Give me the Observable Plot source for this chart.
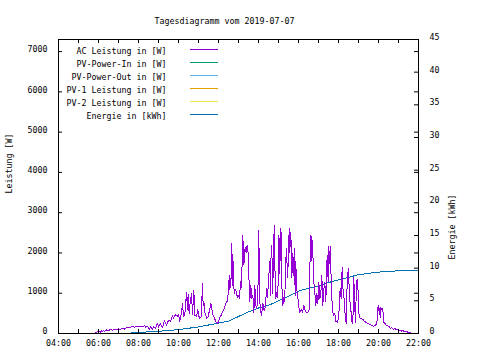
<!DOCTYPE html>
<html><head><meta charset="utf-8">
<script src="https://cdn.jsdelivr.net/npm/d3@7"></script>
<script src="https://cdn.jsdelivr.net/npm/@observablehq/plot@0.6"></script>
<style>
html,body{margin:0;padding:0;background:#fff;}
#chart svg{display:block}
</style>
</head><body><div id="chart"></div>
<script>
const title = "Tagesdiagramm vom 2019-07-07";
const yLabel = "Leistung [W]";
const y2Label = "Energie [kWh]";
const legendLabels = ["AC Leistung in [W]", "PV-Power-In in [W]", "PV-Power-Out in [W]", "PV-1 Leistung in [W]", "PV-2 Leistung in [W]", "Energie in [kWh]"];
const legendColors = ["#9400d3", "#009e73", "#56b4e9", "#e69f00", "#f0e442", "#0072b2"];
const xTicks = ["04:00","06:00","08:00","10:00","12:00","14:00","16:00","18:00","20:00","22:00"];
const yTicks = [0,1000,2000,3000,4000,5000,6000,7000];
const y2Ticks = [0,5,10,15,20,25,30,35,40,45];
const yMax = 7300;
const y2Max = 45;

const acTimes = [
 "05:48","05:51","05:54","05:57","06:00","06:03","06:06","06:09","06:12","06:15","06:18","06:24","06:30","06:36","06:42","06:48","06:54",
 "07:00","07:06","07:12","07:18","07:24","07:30","07:36","07:42","07:48","07:54",
 "08:00","08:06","08:12","08:18","08:21","08:27","08:33","08:36","08:42","08:45","08:51","08:57",
 "09:00","09:06","09:12","09:18","09:24","09:30","09:36","09:42","09:45","09:51","09:57",
 "10:00","10:04","10:09","10:12","10:15","10:19","10:24","10:27","10:29","10:32","10:35","10:39","10:42","10:46","10:49","10:54","10:58",
 "11:01","11:04","11:08","11:12","11:14","11:17","11:20","11:25","11:29","11:34","11:37","11:40","11:44","11:48","11:52","11:56",
 "12:00","12:04","12:08","12:12","12:16","12:20","12:24","12:28","12:30","12:32","12:34","12:37","12:40","12:42","12:44","12:47","12:50","12:53","12:56","12:59",
 "13:03","13:06","13:09","13:13","13:16","13:18","13:20","13:23","13:26","13:28","13:31","13:34","13:37","13:40","13:43","13:46","13:49","13:52","13:55","13:58",
 "14:01","14:03","14:06","14:09","14:13","14:17","14:21","14:24","14:27","14:31","14:34","14:36","14:38","14:40","14:42","14:45","14:47","14:49","14:52","14:55","14:58",
 "15:01","15:03","15:05","15:07","15:09","15:11","15:13","15:16","15:19","15:21","15:24","15:27","15:30","15:32","15:34","15:36","15:38","15:40","15:43","15:46","15:48","15:50","15:52","15:54","15:57",
 "16:00","16:04","16:08","16:12","16:16","16:20","16:24","16:28","16:32","16:36","16:38","16:40","16:43","16:46","16:49","16:52","16:55","16:58",
 "17:01","17:04","17:07","17:10","17:13","17:16","17:19","17:22","17:26","17:29","17:31","17:33","17:36","17:38","17:40","17:43","17:46","17:49","17:52","17:56","17:59",
 "18:02","18:05","18:08","18:11","18:14","18:17","18:20","18:23","18:26","18:28","18:30","18:33","18:36","18:40","18:43","18:46","18:48","18:51","18:54","18:57","18:59",
 "19:02","19:06","19:10","19:14","19:18","19:22","19:26","19:30","19:35","19:40","19:45","19:50","19:55",
 "19:59","20:01","20:03","20:05","20:07","20:10","20:13","20:15","20:19","20:24","20:29","20:33","20:36","20:40","20:44","20:49","20:53","20:57",
 "21:01","21:05","21:09","21:14","21:19","21:24","21:29","21:34","21:38","21:41"
];
const acPower = [
 0,30,10,50,20,60,30,70,40,80,50,90,70,100,80,110,90,
 120,100,130,110,150,140,160,165,160,165,
 165,165,165,200,160,170,110,180,90,170,130,250,
 160,240,150,320,200,330,300,450,380,470,430,
 480,300,520,750,420,460,1030,600,980,500,760,990,480,1070,450,420,600,
 430,380,420,1240,700,750,480,380,420,620,750,600,450,380,300,250,
 280,400,450,530,600,700,780,820,1320,1100,1440,1150,2240,1200,1780,1000,1100,1050,900,950,
 870,1280,1150,2440,1700,1870,2150,2000,2200,2150,1440,800,1200,870,950,520,1200,700,620,900,
 2560,870,600,450,750,570,670,1120,900,1440,1780,950,2150,2190,1000,1700,2690,1700,870,1020,900,
 2440,1500,2610,1800,2500,700,950,750,870,1700,2110,1400,1900,2610,2000,2520,2270,1400,2000,1440,2110,950,1800,1100,1020,
 700,520,600,520,700,560,520,520,600,2440,1800,2400,2000,1280,1020,700,1000,750,
 1280,870,1000,1440,700,1100,1280,800,1940,1300,2150,1740,2150,1300,870,520,450,500,300,280,350,
 600,1120,870,1650,1000,870,450,250,1250,1500,1620,870,700,300,250,1400,800,280,1280,1350,1000,
 400,380,360,340,300,280,260,240,220,200,180,200,250,
 700,560,620,400,650,600,620,280,250,200,180,160,120,150,100,130,100,110,
 80,90,60,70,40,50,30,20,10,0
];

const energyTimes = ["07:00","07:30","08:00","08:30","09:00","09:30","10:00","10:30","11:00","11:30","12:00","12:30","13:00","13:30","14:00","14:30","15:00","15:30","16:00","16:30","17:00","17:30","18:00","18:30","19:00","19:30","20:00","20:30","21:00","21:30","22:00"];
const energyKWh = [0,0.05,0.15,0.25,0.35,0.45,0.6,0.8,1.0,1.3,1.6,1.9,2.6,3.3,3.9,4.3,5.0,5.7,6.5,6.9,7.3,7.8,8.2,8.6,9.0,9.2,9.4,9.5,9.6,9.65,9.65];

const toH = s => { const [h, m] = s.split(":").map(Number); return h + m / 60; };
const k = yMax / y2Max;
const ac = acTimes.map((t, i) => ({t: toH(t), w: acPower[i]}));
const en = energyTimes.map((t, i) => ({t: toH(t), w: energyKWh[i] * k}));
const hours = d3.range(4, 23);

const W = 480, H = 360, mL = 58, mR = 62, mT = 39, mB = 27;
const plotW = W - mL - mR, plotH = H - mT - mB;
const tick = 4;
const font = "'DejaVu Sans Mono', monospace";

function legendSwatches(index, scales, values, dims) {
  const g = d3.create("svg:g").attr("shape-rendering", "crispEdges");
  legendColors.forEach((c, i) => {
    const y = Math.round(dims.marginTop + 10 + 13 * i) + 0.5;
    g.append("line")
      .attr("x1", dims.marginLeft + 132).attr("x2", dims.marginLeft + 160)
      .attr("y1", y).attr("y2", y)
      .attr("stroke", c).attr("stroke-width", 1);
  });
  return g.node();
}

const legendText = legendLabels.map((l, i) => Plot.text([l], {
  frameAnchor: "top-left", text: d => d, textAnchor: "end",
  dx: 108, dy: 8.5 + 13 * i, fill: "black"
}));

const plot = Plot.plot({
  width: W, height: H,
  marginLeft: mL, marginRight: mR, marginTop: mT, marginBottom: mB,
  style: {fontFamily: font, fontSize: "8.3px", color: "black", background: "white", overflow: "visible"},
  x: {domain: [4, 22]},
  y: {domain: [0, yMax]},
  marks: [
    // data
    Plot.line(en, {x: "t", y: "w", stroke: legendColors[5], strokeWidth: 1, shapeRendering: "crispEdges"}),
    Plot.line(ac, {x: "t", y: "w", stroke: legendColors[0], strokeWidth: 1, shapeRendering: "crispEdges"}),
    // frame and inward ticks
    Plot.frame({stroke: "black", shapeRendering: "crispEdges"}),
    Plot.tickX(hours, {x: d => d, insetTop: plotH - tick, stroke: "black"}),
    Plot.tickX(hours, {x: d => d, insetBottom: plotH - tick, stroke: "black"}),
    Plot.tickY(yTicks, {y: d => d, insetRight: plotW - tick, stroke: "black"}),
    Plot.tickY(yTicks, {y: d => d, insetLeft: plotW - tick, stroke: "black"}),
    Plot.tickY(y2Ticks, {y: d => d * k, insetLeft: plotW - tick, stroke: "black"}),
    // tick labels
    Plot.axisX(xTicks.map(toH), {tickSize: 0, tickPadding: 7, tickFormat: (d, i) => xTicks[i], label: null}),
    Plot.axisY(yTicks, {anchor: "left", tickSize: 0, tickPadding: 11, dy: -2, tickFormat: d => String(d), label: null}),
    Plot.axisY(y2Ticks.map(d => d * k), {anchor: "right", tickSize: 0, tickPadding: 11, dy: -2, tickFormat: d => String(Math.round(d / k)), label: null}),
    // axis titles
    Plot.text([yLabel], {frameAnchor: "left", text: d => d, rotate: -90, dx: -49, dy: 7, fill: "black"}),
    Plot.text([y2Label], {frameAnchor: "right", text: d => d, rotate: -90, dx: 34, dy: 8, fill: "black"}),
    // title
    Plot.text([title], {frameAnchor: "top", text: d => d, dx: -14, dy: -21, fill: "black"}),
    // legend
    ...legendText,
    legendSwatches
  ]
});
document.getElementById("chart").appendChild(plot);
</script>
</body></html>
